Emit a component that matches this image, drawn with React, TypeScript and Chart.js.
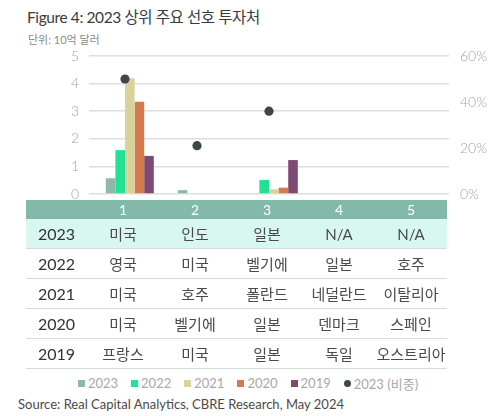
import React, { useEffect, useRef } from "react";
import { Chart, registerables } from "chart.js";

Chart.register(...registerables);

const categories = ["1", "2", "3", "4", "5"];
const v2023 = [0.57, 0.14, 0, 0, 0];
const v2022 = [1.59, 0, 0.51, 0, 0];
const v2021 = [4.19, 0, 0.17, 0, 0];
const v2020 = [3.34, 0, 0.23, 0, 0];
const v2019 = [1.38, 0, 1.23, 0, 0];
const share2023 = [50, 21, 36, null, null];

const leftTicks = [0, 1, 2, 3, 4, 5];
const rightTicks = [0, 20, 40, 60];

const tableYears = ["2023", "2022", "2021", "2020", "2019"];
const row2023 = ["미국", "인도", "일본", "N/A", "N/A"];
const row2022 = ["영국", "미국", "벨기에", "일본", "호주"];
const row2021 = ["미국", "호주", "폴란드", "네덜란드", "이탈리아"];
const row2020 = ["미국", "벨기에", "일본", "덴마크", "스페인"];
const row2019 = ["프랑스", "미국", "일본", "독일", "오스트리아"];
const tableRows = [row2023, row2022, row2021, row2020, row2019];

const seriesNames = ["2023", "2022", "2021", "2020", "2019"];
const seriesColors = ["#8fb8aa", "#22e192", "#d9d39b", "#d5794f", "#7f4a72"];
const dotName = "2023 (비중)";
const dotColor = "#3b474b";

const FONT = "Lato, 'Noto Sans CJK KR', sans-serif";

export default function App() {
  const ref = useRef<HTMLCanvasElement | null>(null);

  useEffect(() => {
    if (!ref.current) return;
    const values = [v2023, v2022, v2021, v2020, v2019];
    const chart = new Chart(ref.current, {
      type: "bar",
      data: {
        labels: categories,
        datasets: [
          {
            type: "line",
            label: dotName,
            data: share2023,
            yAxisID: "y1",
            showLine: false,
            pointRadius: 4.6,
            pointBackgroundColor: dotColor,
            pointBorderColor: dotColor,
            pointBorderWidth: 0,
            order: -1,
          } as any,
          {
            type: "bar",
            label: "",
            data: categories.map(() => null),
            yAxisID: "y",
            backgroundColor: "transparent",
          } as any,
          ...values.map((d, i) => ({
            type: "bar",
            label: seriesNames[i],
            data: d,
            yAxisID: "y",
            backgroundColor: seriesColors[i],
            borderWidth: 0,
          })),
        ],
      },
      options: {
        animation: false,
        responsive: false,
        devicePixelRatio: 1,
        layout: { padding: { top: 56, bottom: 24, left: 0, right: 0 } },
        datasets: {
          bar: { categoryPercentage: 0.8, barPercentage: 1.0 },
        },
        plugins: {
          legend: { display: false },
          tooltip: { enabled: false },
          title: { display: false },
        },
        scales: {
          x: {
            display: false,
            offset: true,
          },
          y: {
            position: "left",
            min: leftTicks[0],
            max: leftTicks[leftTicks.length - 1],
            afterFit: (s: any) => {
              s.width = 89;
            },
            ticks: {
              stepSize: 1,
              padding: 10,
              color: "#a3a3a3",
              font: { family: FONT, size: 14, weight: "300" },
            },
            grid: {
              color: "#dedede",
              lineWidth: 1.5,
              drawTicks: false,
            },
            border: { display: false },
          },
          y1: {
            position: "right",
            min: rightTicks[0],
            max: rightTicks[rightTicks.length - 1],
            afterFit: (s: any) => {
              s.width = 51;
            },
            ticks: {
              stepSize: 20,
              padding: 11,
              color: "#a3a3a3",
              font: { family: FONT, size: 14, weight: "300" },
              callback: (v: any) => v + "%",
            },
            grid: { display: false, drawTicks: false },
            border: { display: false },
          },
        },
      },
    });
    return () => chart.destroy();
  }, []);

  const colLefts = [87, 159, 231, 303, 375];
  const rowTops = [219, 249, 279, 309, 339];

  return (
    <div
      style={{
        position: "absolute",
        left: 0,
        top: 0,
        width: 500,
        height: 416,
        background: "#fff",
        fontFamily: FONT,
        overflow: "hidden",
      }}
    >
      <div
        style={{
          position: "absolute",
          left: 27,
          top: 7,
          fontSize: 15.5,
          fontWeight: 400,
          letterSpacing: -0.4,
          color: "#3a3a3a",
          whiteSpace: "nowrap",
          lineHeight: "20px",
        }}
      >
        Figure 4: 2023 상위 주요 선호 투자처
      </div>
      <div
        style={{
          position: "absolute",
          left: 28,
          top: 33,
          fontSize: 11,
          color: "#8a8a8a",
          whiteSpace: "nowrap",
          lineHeight: "14px",
        }}
      >
        단위: 10억 달러
      </div>
      <canvas
        ref={ref}
        width={500}
        height={218}
        style={{ position: "absolute", left: 0, top: 0, width: 500, height: 218, display: "block" }}
      />

      {/* table header */}
      <div
        style={{
          position: "absolute",
          left: 26,
          top: 200,
          width: 421,
          height: 19,
          background: "#82b9a9",
        }}
      />
      {categories.map((c, i) => (
        <div
          key={"h" + i}
          style={{
            position: "absolute",
            left: colLefts[i],
            top: 200,
            width: 72,
            height: 19,
            lineHeight: "19px",
            textAlign: "center",
            color: "#fff",
            fontSize: 14,
          }}
        >
          {c}
        </div>
      ))}
      {tableRows.map((row, r) => (
        <React.Fragment key={"r" + r}>
          <div
            style={{
              position: "absolute",
              left: 26,
              top: rowTops[r],
              width: 421,
              height: 30,
              background: r === 0 ? "#d8f7f0" : "transparent",
              borderBottom: "1.5px solid #d3dbdb",
              boxSizing: "border-box",
            }}
          />
          <div
            style={{
              position: "absolute",
              left: 26,
              top: rowTops[r],
              width: 61,
              height: 30,
              lineHeight: "30px",
              textAlign: "center",
              color: "#333",
              fontSize: 16,
            }}
          >
            {tableYears[r]}
          </div>
          {row.map((t, i) => (
            <div
              key={"c" + i}
              style={{
                position: "absolute",
                left: colLefts[i],
                top: rowTops[r],
                width: 72,
                height: 30,
                lineHeight: "30px",
                textAlign: "center",
                color: "#4a4a4a",
                fontSize: 15,
                whiteSpace: "nowrap",
              }}
            >
              {t}
            </div>
          ))}
        </React.Fragment>
      ))}

      {/* legend */}
      <div
        style={{
          position: "absolute",
          left: 0,
          top: 374,
          width: 496,
          height: 18,
          display: "flex",
          justifyContent: "center",
          alignItems: "center",
          gap: 13,
          fontSize: 13,
          color: "#a8a8a8",
        }}
      >
        {seriesNames.map((n, i) => (
          <div key={"l" + i} style={{ display: "flex", alignItems: "center", gap: 3 }}>
            <span
              style={{ width: 7, height: 7, background: seriesColors[i], display: "inline-block" }}
            />
            <span>{n}</span>
          </div>
        ))}
        <div style={{ display: "flex", alignItems: "center", gap: 3 }}>
          <span
            style={{
              width: 7,
              height: 7,
              borderRadius: "50%",
              background: dotColor,
              display: "inline-block",
            }}
          />
          <span>{dotName}</span>
        </div>
      </div>

      <div
        style={{
          position: "absolute",
          left: 18,
          top: 395,
          fontSize: 13,
          color: "#4a4a4a",
          whiteSpace: "nowrap",
          lineHeight: "18px",
        }}
      >
        Source: Real Capital Analytics, CBRE Research, May 2024
      </div>
    </div>
  );
}
